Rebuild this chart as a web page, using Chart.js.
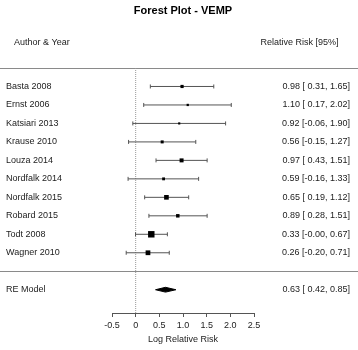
<!DOCTYPE html>
<html>
<head>
<meta charset="utf-8">
<script src="https://cdn.jsdelivr.net/npm/chart.js@4.4.1/dist/chart.umd.min.js"></script>
<style>
  html, body { margin: 0; padding: 0; background: #fff; }
  canvas { display: block; }
</style>
</head>
<body>
<canvas id="forest" width="358" height="350"></canvas>
<script>
// study rows, top to bottom
const studies = ['Basta 2008', 'Ernst 2006', 'Katsiari 2013', 'Krause 2010', 'Louza 2014',
  'Nordfalk 2014', 'Nordfalk 2015', 'Robard 2015', 'Todt 2008', 'Wagner 2010'];
const estimates = [0.98, 1.10, 0.92, 0.56, 0.97, 0.59, 0.65, 0.89, 0.33, 0.26];
const lowerCI = [0.31, 0.17, -0.06, -0.15, 0.43, -0.16, 0.19, 0.28, -0.003, -0.20]; // Todt prints as -0.00
const upperCI = [1.65, 2.02, 1.90, 1.27, 1.51, 1.33, 1.12, 1.51, 0.67, 0.71];
// RE model: estimate, lower, upper
const pooled = [0.63, 0.42, 0.85];
const xTicks = [-0.5, 0, 0.5, 1, 1.5, 2, 2.5];

const k = studies.length;
const rowOf = i => k - i;          // Basta = 10 ... Wagner = 1
const RE_ROW = -1;
const Y_MIN = -2.26, Y_MAX = 11;
const DIAMOND_H = 0.13;

function fmtLo(v) { return (v < 0 ? '-' : ' ') + Math.abs(v).toFixed(2); }
function ciText(e, lo, hi) { return e.toFixed(2) + ' [' + fmtLo(lo) + ', ' + hi.toFixed(2) + ']'; }

// square size like metafor: linear in precision (1/CI width), cex 0.5..1.5
const prec = estimates.map((_, i) => 1 / (upperCI[i] - lowerCI[i]));
const pMin = Math.min(...prec), pMax = Math.max(...prec);
const sqRadius = prec.map(p => (0.5 + (p - pMin) / (pMax - pMin)) * 4.3 / Math.SQRT2);

// CI segments, broken with null points
const ciData = [];
studies.forEach((_, i) => {
  ciData.push({x: lowerCI[i], y: rowOf(i)}, {x: upperCI[i], y: rowOf(i)}, {x: null, y: null});
});

const textPlugin = {
  id: 'forestText',
  beforeDatasetsDraw(chart) {
    const ctx = chart.ctx, y = chart.scales.y;
    ctx.save();
    ctx.strokeStyle = '#8a8a8a';
    ctx.lineWidth = 1;
    [Y_MAX, 0].forEach(v => {
      const py = Math.round(y.getPixelForValue(v)) + 0.5;
      ctx.beginPath(); ctx.moveTo(0, py); ctx.lineTo(chart.width, py); ctx.stroke();
    });
    ctx.restore();
  },
  afterDraw(chart) {
    const ctx = chart.ctx, y = chart.scales.y;
    ctx.save();
    ctx.fillStyle = '#222';
    ctx.font = '9px "Liberation Sans", Arial, sans-serif';
    ctx.textBaseline = 'middle';
    ctx.textAlign = 'left';
    ctx.fillText('Author & Year', 14, 43);
    ctx.textAlign = 'right';
    ctx.fillText('Relative Risk [95%]', 338.5, 43);
    studies.forEach((s, i) => {
      const py = y.getPixelForValue(rowOf(i));
      ctx.textAlign = 'left';
      ctx.fillText(s, 6, py);
      ctx.textAlign = 'right';
      ctx.fillText(ciText(estimates[i], lowerCI[i], upperCI[i]), 350, py);
    });
    const pr = y.getPixelForValue(RE_ROW);
    ctx.textAlign = 'left';
    ctx.fillText('RE Model', 6, pr);
    ctx.textAlign = 'right';
    ctx.fillText(ciText(pooled[0], pooled[1], pooled[2]), 350, pr);
    ctx.restore();
  }
};

Chart.defaults.font.family = '"Liberation Sans", Arial, sans-serif';
Chart.defaults.color = '#222';

new Chart(document.getElementById('forest'), {
  type: 'scatter',
  data: {
    datasets: [
      { // study squares
        data: estimates.map((e, i) => ({x: e, y: rowOf(i)})),
        pointStyle: 'rect', pointRadius: sqRadius, pointBorderWidth: 0,
        pointBackgroundColor: '#000', clip: false
      },
      { // confidence intervals with caps
        data: ciData, showLine: true, spanGaps: false,
        borderColor: '#555', borderWidth: 1,
        pointStyle: 'line', pointRotation: 90, pointRadius: 2,
        pointBorderColor: '#555', pointBorderWidth: 1, clip: false
      },
      { // diamond upper half
        data: [{x: pooled[1], y: RE_ROW}, {x: pooled[0], y: RE_ROW + DIAMOND_H}, {x: pooled[2], y: RE_ROW}],
        showLine: true, fill: '+1', backgroundColor: '#000', borderColor: '#000',
        borderWidth: 1, pointRadius: 0, tension: 0, clip: false
      },
      { // diamond lower half
        data: [{x: pooled[1], y: RE_ROW}, {x: pooled[0], y: RE_ROW - DIAMOND_H}, {x: pooled[2], y: RE_ROW}],
        showLine: true, backgroundColor: '#000', borderColor: '#000',
        borderWidth: 1, pointRadius: 0, tension: 0, clip: false
      },
      { // reference line at 0
        data: [{x: 0, y: Y_MAX}, {x: 0, y: Y_MIN}],
        showLine: true, borderColor: '#999', borderWidth: 1, borderDash: [1, 1],
        pointRadius: 0, clip: false
      }
    ]
  },
  options: {
    responsive: false,
    animation: false,
    events: [],
    layout: { padding: { left: 112, right: 104, top: 0, bottom: 0 } },
    plugins: {
      legend: { display: false },
      tooltip: { enabled: false },
      title: {
        display: true, text: 'Forest Plot - VEMP', color: '#000',
        font: { size: 11, weight: 'bold' },
        padding: { top: 4.4, bottom: 50.4 }
      }
    },
    scales: {
      x: {
        type: 'linear', min: -0.5, max: 2.5,
        afterBuildTicks: axis => { axis.ticks = xTicks.map(v => ({value: v})); },
        afterFit: axis => { axis.height = 37; },
        grid: { drawOnChartArea: false, drawTicks: true, tickLength: 4, color: '#555' },
        border: { display: true, color: '#555' },
        ticks: { font: { size: 9 }, padding: 3, color: '#222', maxRotation: 0 },
        title: { display: true, text: 'Log Relative Risk', font: { size: 9 }, color: '#222',
          padding: { top: 3, bottom: 4.6 } }
      },
      y: { type: 'linear', min: Y_MIN, max: Y_MAX, display: false }
    }
  },
  plugins: [textPlugin]
});
</script>
</body>
</html>
